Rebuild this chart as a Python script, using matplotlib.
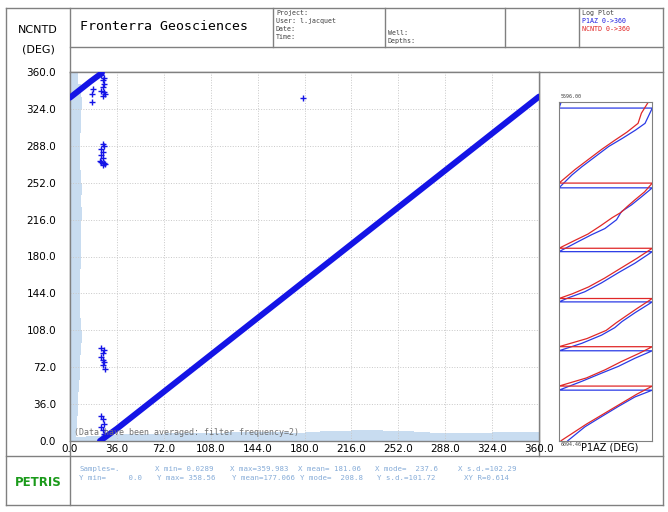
import matplotlib
matplotlib.use('Agg')
import matplotlib.pyplot as plt

# main crossplot band (P1AZ on x, NCNTD on y), read along the diagonal
band_p1az = [23, 36, 72, 108, 144, 180, 216, 252, 288, 324, 360]
band_ncntd = [0, 12, 48, 84, 120, 156, 192, 228, 264, 300, 336]
wrap_p1az = [0, 8, 16, 24.5]
wrap_ncntd = [335, 343, 351, 359]

# scattered points off the band
out_p1az = [16.6, 16.6, 18, 24, 25, 26, 25, 24, 26, 27, 25, 26,
            25, 26, 24, 25, 24, 25, 23, 26, 27, 25, 24,
            24, 26, 25, 24, 25, 26, 25, 27,
            25, 26, 24, 25, 26, 24,
            179]
out_ncntd = [339, 331, 343, 357, 352, 348, 345, 341, 340, 339, 337, 354,
             290, 288, 285, 282, 279, 276, 273, 271, 270, 269, 272,
             91, 89, 86, 82, 79, 77, 74, 70,
             21, 17, 14, 11, 7, 24,
             335]

# histogram of NCNTD (drawn on the left edge), 12 deg bins
hist_y_bins = [0, 12, 24, 36, 48, 60, 72, 84, 96, 108, 120, 132, 144, 156, 168,
               180, 192, 204, 216, 228, 240, 252, 264, 276, 288, 300, 312, 324, 336, 348]
hist_y_width = [4.5, 5.2, 6.0, 6.4, 7.0, 7.5, 7.7, 8.2, 9.0, 8.8, 8.0, 7.7, 7.7, 8.0, 8.2,
                8.5, 8.2, 8.6, 9.0, 8.8, 9.0, 8.5, 8.0, 7.8, 7.7, 8.3, 8.8, 9.2, 8.5, 6.4]
# histogram of P1AZ (drawn on the bottom edge)
hist_x_bins = hist_y_bins
hist_x_height = [4, 5, 6, 6.5, 7, 7, 7.5, 7.5, 8, 8, 8.5, 8.5, 9, 9, 8,
                 8.5, 9.5, 10, 10.5, 10.5, 10, 9.5, 9, 8, 7.5, 7.5, 8, 8.5, 9, 8.5]

ticks = [0, 36, 72, 108, 144, 180, 216, 252, 288, 324, 360]
tick_labels = ['0.0', '36.0', '72.0', '108.0', '144.0', '180.0', '216.0',
               '252.0', '288.0', '324.0', '360.0']

# depth track: P1AZ (blue) and NCNTD (red) vs depth
trk_depth_b = [5596, 5604.5, 5604.5, 5627, 5637, 5649, 5661, 5676, 5691, 5703, 5722,
               5722, 5735, 5747, 5757, 5769, 5782, 5791, 5801, 5816,
               5816, 5833, 5847, 5862, 5875, 5884, 5890,
               5890, 5906, 5919, 5928, 5939, 5951, 5962,
               5962, 5973, 5985, 5995, 6007, 6020,
               6020, 6030, 6044, 6059, 6074, 6094.46]
trk_p1az = [8, 0, 360, 332, 295, 245, 192, 140, 88, 50, 0,
            360, 319, 280, 241, 222, 177, 126, 75, 0,
            360, 293, 229, 164, 100, 36, 0,
            360, 293, 243, 215, 164, 88, 0,
            360, 293, 229, 164, 88, 0,
            360, 293, 229, 164, 100, 34]
trk_depth_r = [5596, 5612, 5627, 5640, 5652, 5665, 5680, 5695, 5706, 5715,
               5715, 5728, 5740, 5750, 5758, 5766, 5778, 5790, 5800, 5811,
               5811, 5826, 5840, 5855, 5868, 5878, 5885,
               5885, 5900, 5912, 5921, 5932, 5944, 5956,
               5956, 5966, 5978, 5990, 6002, 6014,
               6014, 6026, 6040, 6055, 6070, 6094.46]
trk_ncntd = [344, 318, 305, 262, 215, 166, 114, 62, 28, 0,
             360, 330, 292, 262, 240, 205, 160, 112, 58, 0,
             360, 300, 240, 176, 114, 52, 0,
             360, 300, 254, 220, 182, 108, 0,
             360, 308, 240, 178, 106, 0,
             360, 300, 238, 172, 106, 8]

W, H = 668, 512
FRAME = '#808080'
MONO = 'DejaVu Sans Mono'
NARROW = ['Liberation Sans Narrow', 'DejaVu Sans']

fig = plt.figure(figsize=(W / 100, H / 100), dpi=100, facecolor='white')

# page frame / header / footer boxes in pixel coordinates
page = fig.add_axes([0, 0, 1, 1])
page.set_xlim(0, W)
page.set_ylim(H, 0)
page.axis('off')
lines = [
    ((6, 663), (8, 8)), ((6, 663), (505, 505)), ((6, 6), (8, 505)), ((663, 663), (8, 505)),
    ((70, 70), (8, 505)), ((70, 663), (47, 47)), ((70, 663), (72, 72)),
    ((6, 663), (456, 456)),
    ((273, 273), (8, 47)), ((385, 385), (8, 47)), ((505, 505), (8, 47)), ((579, 579), (8, 47)),
    ((539, 539), (72, 456)),
]
for xs, ys in lines:
    page.plot(xs, ys, color=FRAME, lw=1)

page.text(38, 30, 'NCNTD', family=NARROW, fontsize=8, ha='center', va='center')
page.text(38, 50, '(DEG)', family=NARROW, fontsize=8, ha='center', va='center')
page.text(80, 27, 'Fronterra Geosciences', family=MONO, fontsize=9.5, ha='left', va='center')
for i, s in enumerate(['Project:', 'User: l.jacquet', 'Date:', 'Time:']):
    page.text(276, 13 + 8 * i, s, family=MONO, fontsize=4.8, color='#404040', va='center')
page.text(388, 33, 'Well:', family=MONO, fontsize=4.8, color='#404040', va='center')
page.text(388, 41, 'Depths:', family=MONO, fontsize=4.8, color='#404040', va='center')
page.text(582, 13, 'Log Plot', family=MONO, fontsize=4.8, color='#404040', va='center')
page.text(582, 21, 'P1AZ 0->360', family=MONO, fontsize=4.8, color='#2020e0', va='center')
page.text(582, 29, 'NCNTD 0->360', family=MONO, fontsize=4.8, color='#e02020', va='center')
page.text(610, 448, 'P1AZ (DEG)', fontsize=7, ha='center', va='center')
page.text(38, 483, 'PETRIS', family=NARROW, fontsize=8.5, weight='bold',
          color='#1a9a1a', ha='center', va='center')

STAT = '#86acd8'
stats1 = [(79, 'Samples=.'), (155, 'X min= 0.0289'), (230, 'X max=359.983'),
          (298, 'X mean= 181.06'), (375, 'X mode=  237.6'), (458, 'X s.d.=102.29')]
stats2 = [(79, 'Y min=     0.0'), (157, 'Y max= 358.56'), (232, 'Y mean=177.066'),
          (300, 'Y mode=  208.8'), (377, 'Y s.d.=101.72'), (464, 'XY R=0.614')]
for x, s in stats1:
    page.text(x, 469, s, family=MONO, fontsize=5.3, color=STAT, va='center')
for x, s in stats2:
    page.text(x, 478, s, family=MONO, fontsize=5.3, color=STAT, va='center')

# crossplot
ax = fig.add_axes([70 / W, 1 - 441 / H, 469 / W, 369 / H])
ax.set_xlim(0, 360)
ax.set_ylim(0, 360)
HIST = '#c8dcf0'
ax.barh(hist_y_bins, hist_y_width, height=12, left=0, align='edge', color=HIST, lw=0, zorder=1)
ax.bar(hist_x_bins, hist_x_height, width=12, bottom=0, align='edge', color=HIST, lw=0, zorder=1)
for t in ticks[1:-1]:
    ax.axvline(t, color='#c8c8c8', lw=0.7, ls=':', zorder=1.5)
    ax.axhline(t, color='#c8c8c8', lw=0.7, ls=':', zorder=1.5)

BLUE = '#1414e6'
ax.plot(band_p1az, band_ncntd, color=BLUE, lw=4.3, solid_capstyle='round', zorder=3)
ax.plot(wrap_p1az, wrap_ncntd, color=BLUE, lw=4.3, solid_capstyle='round', zorder=3)
ax.plot(out_p1az, out_ncntd, ls='none', marker='+', ms=4.5, mew=1.0, color=BLUE, zorder=3)

ax.text(3, 4, '(Data have been averaged: filter frequency=2)', family=MONO,
        fontsize=6, color='#707070', va='bottom', zorder=4)

ax.set_xticks(ticks)
ax.set_xticklabels(tick_labels)
ax.set_yticks(ticks)
ax.set_yticklabels(tick_labels)
ax.tick_params(length=0, labelsize=7.5)
ax.tick_params(axis='x', pad=2)
ax.tick_params(axis='y', pad=10)
for sp in ax.spines.values():
    sp.set_color(FRAME)
    sp.set_linewidth(1)

# depth track panel
tr = fig.add_axes([559 / W, 1 - 440.7 / H, 93.3 / W, 338.4 / H])
tr.set_xlim(0, 360)
tr.set_ylim(6094.46, 5596)
tr.plot(trk_p1az, trk_depth_b, color='#2a3ae6', lw=0.9)
tr.plot(trk_ncntd, trk_depth_r, color='#e02828', lw=0.9)
tr.set_xticks([])
tr.set_yticks([])
for sp in tr.spines.values():
    sp.set_color(FRAME)
    sp.set_linewidth(0.8)
page.text(561, 97, '5596.00', family=MONO, fontsize=3.6, color='#404040', va='center')
page.text(561, 445, '6094.46', family=MONO, fontsize=3.6, color='#404040', va='center')

fig.savefig('out.png', dpi=100, facecolor='white')
